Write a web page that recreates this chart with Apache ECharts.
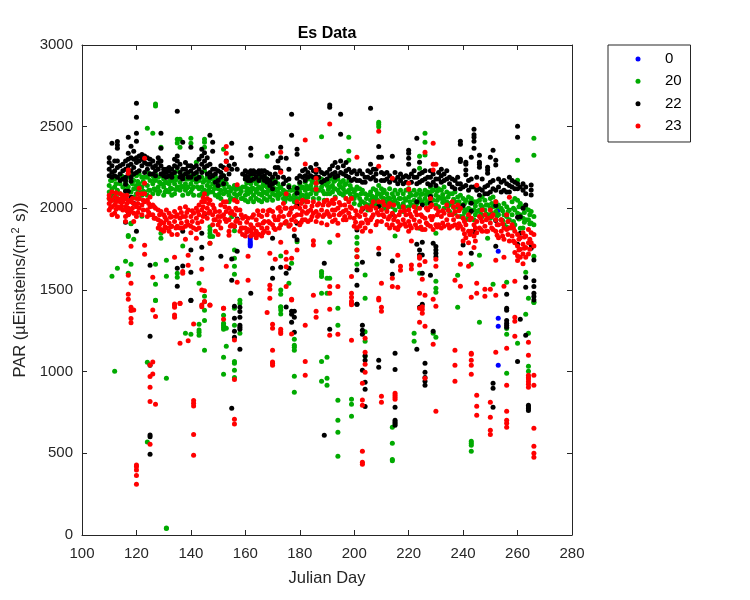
<!DOCTYPE html>
<html><head><meta charset="utf-8">
<script src="https://cdn.jsdelivr.net/npm/echarts@6/dist/echarts.min.js"></script>
<style>html,body{margin:0;padding:0;background:#fff}#c{width:750px;height:600px}</style></head>
<body><div id="c"></div>
<script>
const seriesNames = ['0','20','22','23'];
const seriesColors = ['#0000ff','#00aa00','#000000','#ff0000'];
const xTicks = [100,280];
const yRange = [0,3000];

// each row: [julian day, PAR values read on that day...]
const blue0 = [[161.8,1827,1815,1800,1790,1780,1770],[252.9,1986,1737,1327,1278,1039]];

const green20 = [
[110,2140,2100,2060],[111,2170,2120,2080,1584],[112,2180,2130,2050,1002],[113,2190,2110,2060,1633],[114,2150,2090],[115,2190,2130,2070],[116,2160,2110,2060,1676],[117,2190,2130,1833,1827,1602],[118,2180,2100,1909,1905,1658],[119,2170,2120,2070,1811],
[120,2200,2140,2090],[121,2210,2150,2100,2060],[122,2190,2130,2080,1951],[123,2190,2150,2100],[124,2190,2140,2080,2490,1057,569],[125,2210,2170,2110],[126,2200,2150,2090,2460],[127,2210,2170,2110,2639,2627,1658,1535,1437,1435],[128,2190,2130,2090],[129,2200,2150,2374,1847,1817],
[130,2180,2130,2080],[131,2160,2110,1682,1584,959,43,40],[132,2190,2150,2100],[133,2170,2120,2080],[134,2200,2150,2090],[135,2230,2190,2130,2423,2400,1602,1578],[136,2220,2160,2110,2374,2423],[137,2190,2130,2080,1770],[138,2210,2150,2110,1235],[139,2180,2130,2090],
[140,2200,2150,2100,2429,2398,1229],[141,2190,2130,2080],[142,2210,2160,2282],[143,2170,2120,2080,1541,1290,1255,1241,1223],[144,2190,2130,2090],[145,2230,2170,2110,2405,2423,2374,1462,1428,1376,1314,1131],[146,2190,2140,2090],[147,2180,2130,2100,1888,1868,1847,1827,1786],[148,2200,2150,2100,1827],[149,2190,2130,2080],
[150,2170,2120,2070],[151,2170,2110,2060],[152,2200,2140,2090,2362,1345,1296,1284,1272,1259,1088,984],[153,2150,2100,1266,1155],[154,2130,2080,2040],[155,2120,2060,1949],[156,2140,2090,1862,1745,1694,1645,1596,1388,1284,1063,1051,1008,965],[157,2130,2080],[158,2120,2090,1437,1418,1235],[159,2130,2060],
[160,2180,2130,2080,2050],[161,2170,2120,2090,2040],[162,2190,2150,2100,2060],[163,2170,2120,2080,2040],[164,2180,2150,2100,2060],[165,2190,2130,2090,2050],[166,2170,2120,2080,2040],[167,2190,2140,2100,2060],[168,2180,2130,2090,2319,2050],[169,2160,2110,2070],
[170,2180,2130,2090,2050],[171,2170,2120,2080],[172,2150,2100,2060],[173,2130,2090,1708,1500,1474,1398,1394,1378,1353],[174,2110,2060],[175,2100,2060,1909],[176,2140,2080,1541],[177,2110,2060,1664],[178,2130,2080,2040,1198,1161,1149,1131,972,874],[179,2120,2060,1796],
[180,2150,2100,2060],[181,2130,2080,2040],[182,2160,2110,2060],[183,2180,2120,2070],[184,2190,2140,2090],[185,2160,2110,2060],[186,2190,2130,2090],[187,2170,2110,2060],[188,2180,2130,2439,1613,1600,1582,1480,1063,941],[189,2150,2090,2050],
[190,2140,2090,1572,1480,1088,959,917],[191,2180,2130,2090,1792,1572],[192,2190,2140,2100],[193,2170,2120,2070],[194,2180,2110,1388,1284,825,702,629,482],[195,2160,2130,2090],[196,2170,2120,2080],[197,2150,2100,2060],[198,2170,2110,2435,2349,2294],[199,2120,2070,831,800,727],
[200,2100,2060,2030],[201,2130,2080,1823,1786,1745,1704,1658],[202,2120,2060,2020],[203,2110,2040,2000],[204,2090,2030,1592,1449,1245,1186,1094],[205,2080,2020,1990],[206,2100,2050,2010],[207,2120,2060,2020],[208,2110,2070,2030],[209,2140,2090,2040,2527,2515,2500],
[210,2120,2070,2020],[211,2110,2060,2000],[212,2090,2040,2000],[213,2120,2060,2020],[214,2090,2040,2010,659,561,463,455],[215,2110,2050,1990,1831],[216,2090,2030],[217,2110,2060,2010],[218,2090,2030,1980],[219,2110,2050],
[220,2120,2070,2010],[221,2080,2020],[222,2110,2050,1235,1186],[223,2090,2030,2000],[224,2110,2060,2319,2245,1878,1602],[225,2090,2040],[226,2110,2060,2460,2405,2327],[227,2100,2040],[228,2130,2080,2030],[229,2110,2050,1235],
[230,2130,2080,2020,1847,1554,1510,1486,1210],[231,2120,2070,2010],[232,2110,2060],[233,2130,2060,2000],[234,2100,2040],[235,2090,2030,1980],[236,2090,2020],[237,2100,2040,1970],[238,2070,2010,1590,1394],[239,2080,2020,1950],
[240,2060,2000,1950],[241,2050,1990,1930],[242,2070,2000,1950],[243,2060,1990,1940,1658,574,561,549,512],[244,2040,1990,1930],[245,2040,1980],[246,2050,1990,1713,1302],[247,2070,2010,1950],[248,2050,1990],[249,2020,1960,1817],
[250,2060,2000,1940],[251,2070,2010,1535],[252,2040,1980,1930],[253,2020,1960],[254,2000,1930],[255,2030,1960,1900],[256,2010,1950,1885,1547,1265,1229,990],[257,1990,1930],[258,2040,1960,1880],[259,2060,1990,1900],
[260,2050,1970,2294,2172,1174],[261,2030,1960,1878],[262,2010,1940,1880],[263,2000,1930,1609,1351],[264,1990,1930,1449,1235,1033,1002],[265,1980,1910],[266,2429,2325,1950,1900,1706,1423,1425],
[110.5,2170,2075],[112.5,2150,2090],[114.5,2200,2055],[116.5,2140,2085],[118.5,2205,2150],[120.5,2165,2115],[122.5,2165,2105],[124.5,2215,2110],[126.5,2175,2120],[128.5,2160,2105],
[130.5,2155,2100],[132.5,2170,2125],[134.5,2175,2115],[136.5,2190,2135],[138.5,2180,2125],[140.5,2175,2120],[142.5,2185,2130],[144.5,2160,2105],[146.5,2165,2110],[148.5,2175,2120],
[150.5,2145,2090],[152.5,2170,2115],[154.5,2105,2055],[156.5,2115,2060],[158.5,2105,2060],[160.5,2155,2105],[162.5,2170,2125],[164.5,2165,2120],[166.5,2145,2095],[168.5,2155,2110],
[170.5,2155,2110],[172.5,2125,2080],[174.5,2085,2040],[176.5,2110,2055],[178.5,2105,2055],[180.5,2125,2080],[182.5,2135,2085],[184.5,2165,2115],[186.5,2160,2110],[188.5,2155,2105],
[190.5,2160,2115],[192.5,2165,2120],[194.5,2145,2095],[196.5,2145,2100],[198.5,2140,2090],[200.5,2115,2080],[202.5,2090,2040],[204.5,2060,2010],[206.5,2075,2030],[208.5,2090,2050],
[210.5,2095,2045],[212.5,2065,2020],[214.5,2070,2025],[216.5,2060,2010],[218.5,2060,2010],[220.5,2095,2040],[222.5,2080,2025],[224.5,2085,2040],[226.5,2085,2030],[228.5,2105,2055],
[230.5,2105,2050],[232.5,2085,2035],[234.5,2070,2015],[236.5,2055,2005],[238.5,2040,1990],[240.5,2030,1975],[242.5,2035,1975],[244.5,2015,1960],[246.5,2020,1965],[248.5,2020,1965],
[250.5,2030,1970],[252.5,2010,1955],[254.5,1985,1925],[256.5,1980,1920],[258.5,2000,1920],[260.5,2010,1935],[262.5,1975,1915],[264.5,1960,1905]
];

const black22 = [
[110,2240,2280,2200,2310],[111,2220,2260,2190,2398],[112,2230,2290,2200],[113,2190,2250,2290,2409,2388,2368],[114,2210,2170,2260],[115,2230,2180,2270],[116,2190,2240,2290,2170,2147,2105,1915],[117,2210,2260,2300,2435,2337,2105,1964],[118,2230,2190,2270,2310,2380,2166,2068],[119,2250,2300,2210,2349,2031],
[120,2280,2310,2220,2643,2558,2460,2411,1860],[121,2290,2230,2320],[122,2260,2300,2330],[123,2320,2280,2220],[124,2310,2270,2240],[125,2270,2210,2300,1651,1217,1039,612,602,494],[126,2250,2210,2290],[127,2230,2260,2200],[128,2240,2280,2310],[129,2260,2210,2290,2460,2368],
[130,2240,2200,2220],[131,2220,2190,2240],[132,2200,2230,2250],[133,2210,2240,2190],[134,2220,2260,2300],[135,2250,2290,2320,2594,1633,1523],[136,2220,2270,2190],[137,2200,2240,2180,2405,1860,1647],[138,2240,2280,2210],[139,2220,2190,2260],
[140,2230,2260,2190,2374,1745,1609,1437,1435],[141,2210,2250],[142,2220,2180,2260],[143,2240,2300,2190],[144,2270,2320,2220,2362,1847,1762,1694],[145,2290,2250,2340,1964],[146,2260,2310,2210],[147,2220,2270,2190,2447],[148,2240,2200,2405,2349],[149,2210,2160,2240],
[150,2170,2230,2140],[151,2220,2190,2260,1706],[152,2250,2200,2150],[153,2290,2240,2180],[154,2260,2210],[155,2310,2240,2398,1690,1559,776],[156,2270,1890,1400,1327,1247,1210],[157,2240,1935,1737],[158,1394,1368,1333,1284,1272,1259,1137],[159,2210],
[160,2200,2230,2180],[161,2190,2220,2170],[162,2210,2230,2170,2368,2325,1480],[163,2180,2210,2230],[164,2190,2220],[165,2170,2210,2230],[166,2190,2220,2230],[167,2200,2230,2170],[168,2180,2220,2160],[169,2170,2140,2210],
[170,2150,2190,2120,2337,1817,1633,1572],[171,2210,2250,2160],[172,2290,2250,2190],[173,2310,2374,2230,1639],[174,2190,2150],[175,2170,2307,1603,1396],[176,2240,2180,2130,1633],[177,2576,2447,2000,1370,1351,1302],[178,1831,1370,1333,1241],[179,2362,2331,2184,2123,2092,2021,1909,1807],
[180,2200,2160],[181,2230,2190],[182,2240,2200,2170],[183,2220,2190],[184,2250,2200],[185,2230,2190],[186,2270,2220,2190],[187,2240,2190],[188,2220,2160],[189,2210,2170,1664,610],
[190,2220,2180],[191,2633,2619,2240,2200,1259],[192,2260,2210],[193,2280,2220,2190],[194,2250,2200],[195,2576,2454,2290,2220],[196,2260,2210],[197,2280,2230,2200],[198,2240,2190],[199,2220,2170],
[200,2230,2180],[201,2210,2170,1868,1623,1529,1413,1412],[202,2230,2170],[203,2210,2160,1994,1670,1284,1253,1229,1008],[204,2190,2160,1098,1070,935,892,786],[205,2230,2190],[206,2613,2270,2220,2180],[207,2240,2190],[208,2240,2210,2170],[209,2378,2313,2011,1721,1070,1027],
[210,2313,2220,2170],[211,2210,2170],[212,2220,2180],[213,2200,2160],[214,2319,2180,1964,1678,1596],[215,2220,2170,1112,1014,782,702,692,682,672],[216,2190,2150],[217,2210,2170],[218,2190,2150],[219,2200,2160],
[220,2356,2337,2307,2270,2190],[221,2210,2160],[222,2230,2190],[223,2429,2190,2150,2041,1780,1137],[224,2282,2210,2160,1745,1715,1394],[225,2220,2170,2021,1792,1602,1715,1412],[226,2230,2180,1051,996,965,941,917],[227,2190,2150],[228,2230,2190,2141,2072,2031,1590],[229,2210,2160,1786,1247],
[230,2180,2140,1766,1745,1725,1704],[231,2220,2180],[232,2240,2200,2160],[233,2210,2170],[234,2230,2180],[235,2190,2150],[236,2180,2130],[237,2170,2120],[238,2190,2150],[239,2411,2392,2300,2286,2150,2120],
[240,2130,2017,1776],[241,2282,2270,2235,2205,2140],[242,2170,2110],[243,2313,2180,2130,2031,1982,1725],[244,2484,2451,2435,2411,2368,2130,1858],[245,2190,2110],[246,2325,2282,2270,2251,2120,2080],[247,2180,2110],[248,2130,2090],[249,2251,2235,2215,2140,2090],
[250,2313,2160,2100],[251,2356,2170,2120,929,898,782],[252,2294,2266,2017,1925,1768,2110],[253,2180,2130],[254,2160,2100],[255,2170,2110],[256,2150,2100,1474,1388,1376,1314,1296,1284,1272],[257,2190,2140,2100],[258,2170,2130],[259,2160,2120],
[260,2502,2435,2150,2120,1780,1945,1063],[261,2130,1949,1847,1321],[262,2150,2110,2000],[263,2130,2090,2021,1576,1517,1223],[264,794,784,775,763],[265,2143,2112,2082,1776,1756],[266,1684,1556,1521,1480,1460,1439]
];

const red23 = [
[110,2080,2030,1990,2060],[111,2100,2050,2010,1960],[112,2070,2020,1970],[113,2060,2010,1950],[114,2090,2040,2000],[115,2080,2040,1990],[116,2060,2010,1950,1920],[117,2235,2215,1590,1474,1443,2050,2000,1960],[118,2040,1980,1768,1541,1394,1374,1325,1300],[119,2030,1970,1920,1378],
[120,2060,2010,1950,429,418,398,365,310],[121,2123,2060,2000],[122,2090,2020,1960],[123,2307,2154,1774,1719,2090,2040],[124,2050,1990,1950],[125,2070,2010,1960,1041,970,904,818,555],[126,1578,1378,2020,1960,1059,986],[127,1337,2000,1940,800],[128,1990,1930,1880],[129,1980,1920,1870],
[130,1960,1910,1860],[131,1990,1930,1880],[132,1970,1910,1860],[133,1950,1890,1840],[134,1980,1920,1700,1414,1394,1347,1333,1407],[135,1960,1890,1840],[136,2000,1940,1880,1418,1419,1174],[137,1950,1880,1613,1602],[138,2010,1950,1890,1811],[139,1990,1900,1713,1651,1190],
[140,1950,1890,1850],[141,1970,1880,1292,823,806,790,616,488],[142,2000,1940,1870,1817],[143,2020,1960,1880],[144,2040,1990,1920,1627,1500,1408,1398],[145,2090,2040,1970,1496,1429],[146,2060,2000,1940],[147,2050,1980,1786,1408,1407],[148,2020,1960,1900],[149,1980,1930,1860],
[150,1950,1900,1840],[151,2020,1950,1880],[152,2040,1960,1388,1321,1388],[153,2378,2337,2286,2239,2040,1980,1920,1645],[154,2000,1930,1860,1835],[155,1980,1900],[156,2050,1960,1890,1194,952,708,680],[157,2145,2040,1990,1930,1547],[158,1990,1910,1860],[159,1940,1880,1840],
[160,1950,1880,1830],[161,1940,1870,1706,1559],[162,1900,1860,1830],[163,1960,1880,1840],[164,1930,1860,1820],[165,1960,1900,1840],[166,1950,1880,1830],[167,1920,1860],[168,1960,1880,1363],[169,1990,1910,1725,1529,1504,1449],
[170,1980,1900,1290,1266,1131,1059,1051,1039],[171,1930,1870,1688],[172,2000,1930],[173,2343,2221,1980,1900,1792,1259,1245,1233],[174,2030,1950],[175,2090,2000,1920,1731,1688,1643,1521],[176,1960,1890],[177,2000,1930,1694,1443,1439,1231],[178,1950,1870],[179,2040,1960,1745],
[180,2000,1900],[181,2050,1980,1930],[182,2419,2272,2010,1930,1284,1063,978],[183,2040,1980,1920],[184,1990,1930],[185,2040,1970,1802,1776,1468],[186,2235,2184,2154,2117,1980,1920,1370,1333],[187,2030,1960],[188,1990,1910],[189,2040,1960],
[190,2050,1980,1900],[191,2517,2030,1950,1521,1480,1382,1223],[192,2050,1990,1920],[193,2060,1990,1930],[194,2000,1909,1835,1521,1229],[195,2020,1970],[196,1980,1930],[197,2060,1990,1930],[198,2040,1970],[199,2060,2000,1582,1480,1456,1419,1410,1431,1192],
[200,1940,1890],[201,2313,1960,1880,1745,1704],[202,1950,1890],[203,2000,1910,1860,929,826,794,512,446,433],[204,1960,1880,1204,1119,1045,996],[205,2000,1910],[206,1990,1930,1860],[207,2040,1960],[208,2000,1900],[209,2472,2258,2040,1960,1756,1449,1439],
[210,1990,1920,1541,1394,1370,849,812],[211,2020,1950],[212,1980,1900],[213,2030,1950,1880],[214,2184,1970,1900,1572,1521],[215,1950,1880,868,855,843,831],[216,1920,1870,1713,1517],[217,1980,1900,1645,1621],[218,2010,1930],[219,1960,1890],
[220,2154,2117,1990,1920,1860],[221,1950,1880,1800,1653,1629],[222,2010,1930],[223,1960,1880],[224,2000,1920,1704,1694,1653,1480,1302,1388],[225,1950,1870,1566,1398,1380,1357],[226,2343,1940,1870,1674,1468,1278,959],[227,1990,1900],[228,2060,2010,1950,1890],[229,2398,2270,2235,1950,1870,1443,1168],
[230,2270,2000,1900,1688,1645,1400,757],[231,1980,1900],[232,1950,1880],[233,1970,1890],[234,2020,1930],[235,1960,1880],[236,2040,1960,1890],[237,1980,1900,1559,1131,1039,941],[238,2020,1950,1880],[239,2000,1890,1725,1658,1523],
[240,1940,1870,1800],[241,1900,1820],[242,1960,1860,1790,1645],[243,1940,1860,1112,1106,1070,1039,984,1456],[244,1900,1830,1760],[245,2141,1920,1850,1541,1480,855,788,733],[246,1950,1880],[247,1990,1920,1860],[248,1960,1890,1504,1462],[249,1940,1860],
[250,1990,1910,1504,812,721,641,616],[251,1960,1870],[252,2041,1930,1860,1682,1468,1119],[253,1900,1820],[254,1930,1860],[255,1880,1810,1700,1523],[256,1960,1870,1143,917,757,702,684,659],[257,2068,1880,1800],[258,1900,1830],[259,1860,1790,1730,1553,1333,1308,1217],
[260,1840,1770,1710,1680],[261,1820,1750,1700],[262,1850,1780,1720,1660],[263,1830,1760,1700],[264,1870,1790,1720,1180,1100,978,965,955,939,923,904],[265,1850,1790],[266,1840,1770,978,917,653,543,500,476],
[110.5,2045,2005],[112.5,2095,2040,1995],[114.5,2060,2015],[116.5,2080,2030,1985],[118.5,2060,2000],[120.5,2090,2030,1975],[122.5,2050,1990],[124.5,2030,1975],[126.5,2010,1940],[128.5,1960,1900],
[130.5,1945,1885],[132.5,1945,1885],[134.5,1950,1880],[136.5,1975,1910],[138.5,1975,1920],[140.5,1985,1920],[142.5,1980,1910],[144.5,2065,2010,1950],[146.5,2030,1970],[148.5,2000,1930],
[150.5,1980,1920],[152.5,2010,1935],[154.5,1970,1890],[156.5,2000,1920],[158.5,1960,1880],[160.5,1915,1855],[162.5,1945,1880,1845],[164.5,1985,1900,1845],[166.5,1985,1910,1850],[168.5,1985,1920,1850],
[170.5,1950,1880],[172.5,2005,1950,1880],[174.5,2000,1910],[176.5,1975,1900],[178.5,2010,1920],[180.5,2030,1960,1915],[182.5,2040,1970],[184.5,2015,1950],[186.5,2020,1950],[188.5,2020,1950],
[190.5,2020,1965],[192.5,2030,1960],[194.5,2035,1960],[196.5,2020,1950],[198.5,2010,1945],[200.5,1985,1915],[202.5,1980,1910],[204.5,2010,1930],[206.5,2015,1945],[208.5,1975,1920],
[210.5,2040,1960],[212.5,2010,1935],[214.5,2020,1930],[216.5,1960,1890],[218.5,1985,1905],[220.5,1965,1895],[222.5,1980,1900],[224.5,1960,1885],[226.5,2000,1910],[228.5,2020,1930],
[230.5,1960,1885],[232.5,1985,1910],[234.5,1990,1900],[236.5,2010,1930],[238.5,1985,1905],[240.5,1920,1845],[242.5,1930,1840],[244.5,1880,1800],[246.5,1940,1870],[248.5,1930,1860],
[250.5,1950,1880],[252.5,1900,1835],[254.5,1905,1830],[256.5,1920,1840],[258.5,1880,1800],[260.5,1810,1745],[262.5,1825,1755],[264.5,1810,1750]
];

const flatten = rows => rows.flatMap(r => r.slice(1).map(v => [r[0], v]));
const seriesRows = [blue0, green20, black22, red23];
const ink = '#262626';
const chart = echarts.init(document.getElementById('c'), null, {renderer:'canvas'});
const axisBase = {
  axisLine:{show:true,onZero:false,lineStyle:{color:ink,width:1}},
  axisTick:{show:true,inside:true,length:5,lineStyle:{color:ink,width:1}},
  splitLine:{show:false}
};
chart.setOption({
  animation:false,
  backgroundColor:'#fff',
  textStyle:{fontFamily:'"Liberation Sans",Arial,sans-serif'},
  title:{text:'Es Data',left:327,textAlign:'center',top:25.5,padding:0,
    textStyle:{fontSize:16,fontWeight:'bold',color:'#000',fontFamily:'"Liberation Sans"'}},
  grid:{left:82,top:45,width:490,height:490,containLabel:false},
  xAxis:[
    Object.assign({type:'value',min:xTicks[0],max:xTicks[1],interval:20,position:'bottom',
      name:'Julian Day',nameLocation:'middle',nameGap:35,
      nameTextStyle:{fontSize:16.5,color:ink},
      axisLabel:{fontSize:15,color:ink,margin:11}},axisBase),
    Object.assign({type:'value',min:xTicks[0],max:xTicks[1],interval:20,position:'top',axisLabel:{show:false}},axisBase)
  ],
  yAxis:[
    Object.assign({type:'value',min:yRange[0],max:yRange[1],interval:500,position:'left',
      name:'{a|PAR (µEinsteins/(m}{s|2}{a| s))}',nameLocation:'middle',nameGap:41,
      nameTextStyle:{color:ink,rich:{a:{fontSize:16.5,color:ink},s:{fontSize:11,color:ink,verticalAlign:'top',padding:[0,1,8,1]}}},
      axisLabel:{fontSize:15,color:ink,margin:9,formatter:v=>String(v)}},axisBase),
    Object.assign({type:'value',min:yRange[0],max:yRange[1],interval:500,position:'right',axisLabel:{show:false}},axisBase)
  ],
  legend:{
    orient:'vertical',left:608,top:45,
    padding:[6,1.5,8,27.5],itemWidth:44,itemHeight:5,itemGap:6.33,
    borderColor:ink,borderWidth:1,backgroundColor:'#fff',
    data:seriesNames.map(n=>({name:n,icon:'circle'})),
    textStyle:{fontSize:15,color:'#000',width:24,align:'center',lineHeight:16},
    selectedMode:false
  },
  series:seriesNames.map((n,i)=>({
    name:n,type:'scatter',symbol:'circle',symbolSize:5,silent:true,large:false,
    itemStyle:{color:seriesColors[i],opacity:1},
    data:flatten(seriesRows[i])
  }))
});
</script></body></html>
